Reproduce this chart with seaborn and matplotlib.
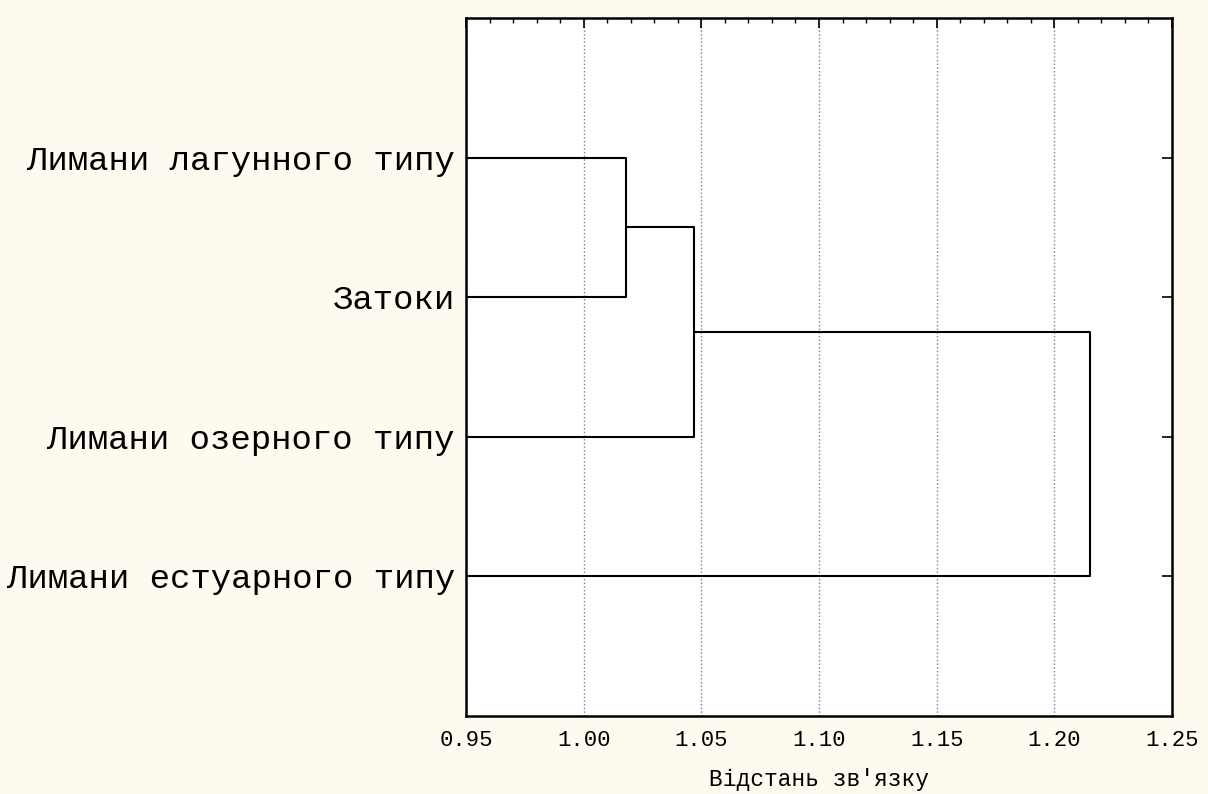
import numpy as np
import pandas as pd
import seaborn as sns
import matplotlib
matplotlib.use('Agg')
from matplotlib import pyplot as plt
from matplotlib.ticker import MultipleLocator, FormatStrFormatter

# Листя дендрограми (зверху вниз) та об'єднання кластерів.
leaves = ['Лимани лагунного типу', 'Затоки', 'Лимани озерного типу',
          'Лимани естуарного типу']
merge_a = [0, 4, 5]
merge_b = [1, 2, 3]
merge_dist = [1.018, 1.047, 1.215]
axis_start = 0.95
axis_end = 1.25
x_label = "Відстань зв'язку"

# Координати вузлів: листя на позиціях 1..n.
pos_y = [float(i + 1) for i in range(len(leaves))]
pos_x = [axis_start] * len(leaves)
rows = []
for k, (a, b, h) in enumerate(zip(merge_a, merge_b, merge_dist)):
    pts = [(pos_x[a], pos_y[a]), (h, pos_y[a]), (h, pos_y[b]), (pos_x[b], pos_y[b])]
    for j, (x, y) in enumerate(pts):
        rows.append({'seg': k, 'ord': j, 'x': x, 'y': y})
    pos_x.append(h)
    pos_y.append((pos_y[a] + pos_y[b]) / 2)
segs = pd.DataFrame(rows)

sns.set_style('white')
plt.rcParams['font.family'] = ['Liberation Mono', 'DejaVu Sans']
plt.rcParams['text.color'] = 'black'
plt.rcParams['axes.labelcolor'] = 'black'
plt.rcParams['xtick.color'] = 'black'
plt.rcParams['ytick.color'] = 'black'

fig = plt.figure(figsize=(12.08, 7.94), dpi=100)
fig.patch.set_facecolor('#fffaf0')
ax = fig.add_axes([466 / 1208, 1 - 716 / 794, (1172 - 466) / 1208, (716 - 18) / 794])
ax.set_facecolor('white')

sns.lineplot(data=segs, x='x', y='y', units='seg', estimator=None, sort=False,
             color='black', linewidth=1.5, ax=ax, zorder=3)

ax.set_xlim(axis_start, axis_end)
ax.set_ylim(len(leaves) + 1, 0)
ax.set_yticks(range(1, len(leaves) + 1))
ax.set_yticklabels(leaves, fontsize=24.5)
ax.xaxis.set_major_locator(MultipleLocator(0.05))
ax.xaxis.set_minor_locator(MultipleLocator(0.01))
ax.xaxis.set_major_formatter(FormatStrFormatter('%.2f'))
ax.tick_params(axis='x', which='major', direction='in', top=True, length=7,
               width=1.2, labelsize=16, pad=10)
ax.tick_params(axis='x', which='minor', direction='in', top=True, length=3.5,
               width=1.0)
ax.tick_params(axis='y', direction='in', right=True, left=True, length=7,
               width=1.2, pad=8)
ax.grid(axis='x', which='major', linestyle=':', color='gray', linewidth=1.0)
ax.grid(axis='y', visible=False)
for s in ax.spines.values():
    s.set_visible(True)
    s.set_color('black')
    s.set_linewidth(1.8)

ax.set_xlabel(x_label, fontsize=16.5, labelpad=12)
ax.set_ylabel('')

fig.savefig('out.png', dpi=100, facecolor=fig.get_facecolor())
